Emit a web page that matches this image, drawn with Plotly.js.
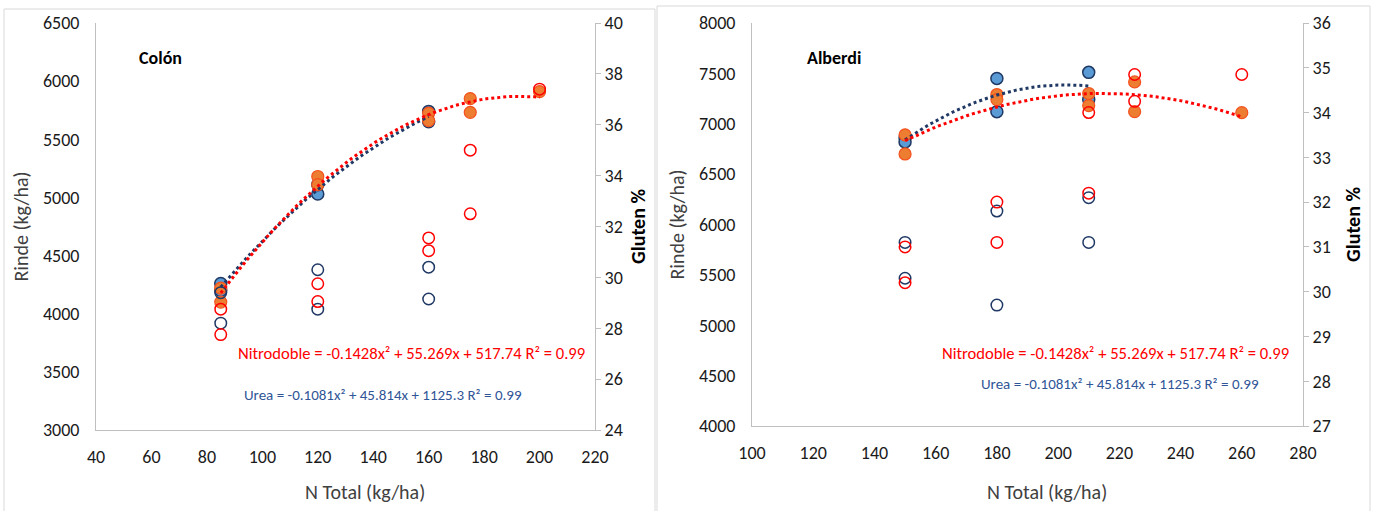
<!DOCTYPE html>
<html>
<head>
<meta charset="utf-8">
<script src="https://cdn.plot.ly/plotly-3.0.1.min.js"></script>
<style>
html,body{margin:0;padding:0;background:#fff;}
#chart{width:1375px;height:511px;}
</style>
</head>
<body>
<div id="chart"></div>
<script>
// ---------- DATA ----------
// Colón
const colonUreaX      = [85, 85, 120, 120, 160, 160];
const colonUreaRinde  = [4260, 4200, 5030, 5110, 5740, 5650];
const colonUreaGluten = [29.4, 28.2, 30.3, 28.75, 30.4, 29.15];

const colonNitroX      = [85, 85, 120, 120, 160, 160, 175, 175, 200];
const colonNitroRinde  = [4220, 4100, 5180, 5110, 5725, 5660, 5850, 5732, 5910];
const colonNitroGluten = [28.75, 27.75, 29.75, 29.05, 31.55, 31.05, 35.0, 32.5, 37.4];

// Alberdi
const albUreaX      = [150, 150, 180, 180, 210, 210];
const albUreaRinde  = [6860, 6820, 7450, 7120, 7510, 7240];
const albUreaGluten = [31.1, 30.3, 31.8, 29.7, 32.1, 31.1];

const albNitroX      = [150, 150, 180, 180, 210, 210, 225, 225, 260];
const albNitroRinde  = [6890, 6700, 7290, 7240, 7300, 7180, 7415, 7120, 7110];
const albNitroGluten = [31.0, 30.2, 32.0, 31.1, 34.0, 32.2, 34.85, 34.25, 34.85];

// Text
const panelNames = ['Colón', 'Alberdi'];
const eqNitro = 'Nitrodoble = -0.1428x² + 55.269x + 517.74 R² = 0.99';
const eqUrea  = 'Urea = -0.1081x² + 45.814x + 1125.3 R² = 0.99';
const xTitle = 'N Total (kg/ha)';
const yTitle = 'Rinde (kg/ha)';
const y2Title = 'Gluten %';

// ---------- helpers ----------
// least-squares quadratic fit (Excel polynomial trendline, order 2)
function quadFit(xs, ys){
  let n=xs.length, s=[0,0,0,0,0], t=[0,0,0];
  for(let i=0;i<n;i++){
    const x=xs[i], y=ys[i];
    let p=1;
    for(let k=0;k<5;k++){ s[k]+=p; if(k<3) t[k]+=y*p; p*=x; }
  }
  const A=[[s[0],s[1],s[2],t[0]],[s[1],s[2],s[3],t[1]],[s[2],s[3],s[4],t[2]]];
  for(let i=0;i<3;i++){
    let m=i; for(let r=i+1;r<3;r++) if(Math.abs(A[r][i])>Math.abs(A[m][i])) m=r;
    [A[i],A[m]]=[A[m],A[i]];
    for(let r=0;r<3;r++){ if(r===i) continue; const f=A[r][i]/A[i][i]; for(let c=i;c<4;c++) A[r][c]-=f*A[i][c]; }
  }
  return [A[0][3]/A[0][0], A[1][3]/A[1][1], A[2][3]/A[2][2]];
}
function trend(xs, ys){
  const c=quadFit(xs, ys);
  const lo=Math.min(...xs), hi=Math.max(...xs);
  const tx=[], ty=[];
  const N=60;
  for(let i=0;i<=N;i++){ const x=lo+(hi-lo)*i/N; tx.push(x); ty.push(c[0]+c[1]*x+c[2]*x*x); }
  return {x:tx, y:ty};
}

const NAVY='#1f3864', BLUE='#5b9bd5', ORANGE='#ed7d31', RED='#ff0000';
const FONT="Carlito, Calibri, 'Open Sans', sans-serif";

function panelTraces(xa, ya, ya2, ux, ur, ug, nx, nr, ng){
  const tU=trend(ux, ur), tN=trend(nx, nr);
  return [
    {type:'scatter', mode:'markers', x:ux, y:ug, xaxis:xa, yaxis:ya2, name:'Urea gluten',
     marker:{size:11.5, color:'rgba(0,0,0,0)', line:{color:NAVY, width:1.5}}},
    {type:'scatter', mode:'markers', x:nx, y:ng, xaxis:xa, yaxis:ya2, name:'Nitrodoble gluten',
     marker:{size:11.5, color:'rgba(0,0,0,0)', line:{color:RED, width:1.5}}},
    {type:'scatter', mode:'markers', x:ux, y:ur, xaxis:xa, yaxis:ya, name:'Urea rinde',
     marker:{size:12, color:BLUE, line:{color:NAVY, width:1.5}}},
    {type:'scatter', mode:'markers', x:nx, y:nr, xaxis:xa, yaxis:ya, name:'Nitrodoble rinde',
     marker:{size:12, color:ORANGE, line:{color:'#f4511e', width:1.2}}},
    {type:'scatter', mode:'lines', x:tU.x, y:tU.y, xaxis:xa, yaxis:ya, name:'Urea trend',
     line:{color:NAVY, width:3, dash:'dot'}},
    {type:'scatter', mode:'lines', x:tN.x, y:tN.y, xaxis:xa, yaxis:ya, name:'Nitrodoble trend',
     line:{color:RED, width:3, dash:'dot'}}
  ];
}

const data = [
  ...panelTraces('x','y','y2', colonUreaX, colonUreaRinde, colonUreaGluten, colonNitroX, colonNitroRinde, colonNitroGluten),
  ...panelTraces('x2','y3','y4', albUreaX, albUreaRinde, albUreaGluten, albNitroX, albNitroRinde, albNitroGluten)
];

const W=1375, H=511;
const px=v=>v/W, py=v=>1-v/H;
const tickFont={family:FONT, size:18, color:'#1a1a1a'};
const titleFont={family:FONT, size:20, color:'#404040'};
const glutenFont={family:FONT, size:20, color:'#000', weight:'bold'};

function xAxis(dom, range, anchor){
  return {domain:dom, range:range, dtick:20, anchor:anchor, showline:true, linecolor:'#bfbfbf', linewidth:1,
    showgrid:false, zeroline:false, ticks:'', tickfont:tickFont, ticklabelstandoff:10};
}
function yAxisL(dom, range, dtick, anchor){
  return {domain:dom, range:range, dtick:dtick, anchor:anchor, showline:true, linecolor:'#bfbfbf', linewidth:1,
    showgrid:false, zeroline:false, ticks:'', tickfont:tickFont, ticklabelstandoff:12,
    title:{text:yTitle, font:titleFont, standoff:8}};
}
function yAxisR(range, dtick, anchor, over, standoff){
  return {range:range, dtick:dtick, anchor:anchor, overlaying:over, side:'right', showline:true, linecolor:'#bfbfbf',
    linewidth:1, showgrid:false, zeroline:false, ticks:'outside', ticklen:5, tickcolor:'#bfbfbf', tickfont:tickFont,
    title:{text:y2Title, font:glutenFont, standoff:standoff}};
}

const layout = {
  width:W, height:H, margin:{l:0,r:0,t:0,b:0}, showlegend:false,
  paper_bgcolor:'#fff', plot_bgcolor:'rgba(0,0,0,0)',
  font:{family:FONT},
  xaxis: xAxis([px(96), px(595)], [40,220], 'y'),
  yaxis: yAxisL([py(430), py(23)], [3000,6500], 500, 'x'),
  yaxis2: yAxisR([24,40], 2, 'x', 'y', 9),
  xaxis2: xAxis([px(752), px(1303)], [100,280], 'y3'),
  yaxis3: yAxisL([py(426), py(23)], [4000,8000], 500, 'x2'),
  yaxis4: yAxisR([27,36], 1, 'x2', 'y3', 16),
  shapes:[
    {type:'rect', xref:'paper', yref:'paper', x0:px(4), x1:px(655), y0:py(520), y1:py(9), line:{color:'#d9d9d9', width:1}, fillcolor:'rgba(0,0,0,0)'},
    {type:'rect', xref:'paper', yref:'paper', x0:px(657), x1:px(1370), y0:py(520), y1:py(6), line:{color:'#d9d9d9', width:1}, fillcolor:'rgba(0,0,0,0)'}
  ],
  annotations:[
    {xref:'paper', yref:'paper', x:px(365), y:py(492), xanchor:'center', yanchor:'middle', showarrow:false,
     text:xTitle, font:titleFont},
    {xref:'paper', yref:'paper', x:px(1047), y:py(492), xanchor:'center', yanchor:'middle', showarrow:false,
     text:xTitle, font:titleFont},
    {xref:'paper', yref:'paper', x:px(137), y:py(58), xanchor:'left', yanchor:'middle', showarrow:false,
     text:'<b>'+panelNames[0]+'</b>', font:{family:FONT, size:18, color:'#000'}},
    {xref:'paper', yref:'paper', x:px(805), y:py(58), xanchor:'left', yanchor:'middle', showarrow:false,
     text:'<b>'+panelNames[1]+'</b>', font:{family:FONT, size:18, color:'#000'}},
    {xref:'paper', yref:'paper', x:px(411), y:py(353), xanchor:'center', yanchor:'middle', showarrow:false,
     text:eqNitro, font:{family:FONT, size:16.6, color:RED}},
    {xref:'paper', yref:'paper', x:px(383), y:py(395), xanchor:'center', yanchor:'middle', showarrow:false,
     text:eqUrea, font:{family:FONT, size:15, color:'#2f5597'}},
    {xref:'paper', yref:'paper', x:px(1115), y:py(353), xanchor:'center', yanchor:'middle', showarrow:false,
     text:eqNitro, font:{family:FONT, size:16.6, color:RED}},
    {xref:'paper', yref:'paper', x:px(1120), y:py(384), xanchor:'center', yanchor:'middle', showarrow:false,
     text:eqUrea, font:{family:FONT, size:15, color:'#2f5597'}}
  ]
};

Plotly.newPlot('chart', data, layout, {displayModeBar:false, staticPlot:true});
</script>
</body>
</html>
